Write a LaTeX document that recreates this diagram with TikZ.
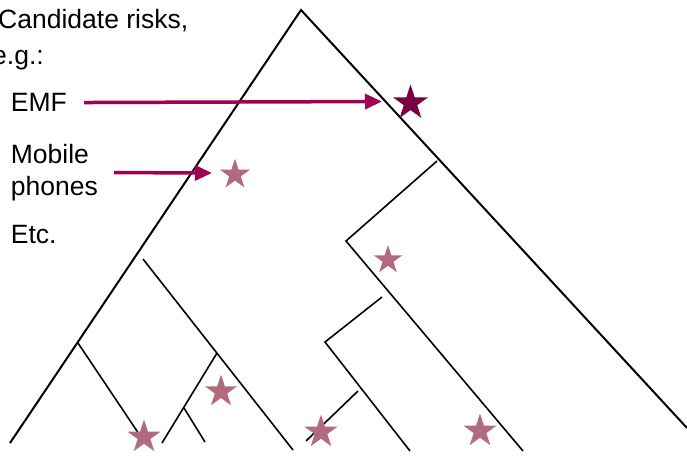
\documentclass[tikz,border=0pt]{standalone}
\usepackage{fontspec}
\setmainfont{Liberation Sans}
\usetikzlibrary{arrows.meta}
\usetikzlibrary{shapes.geometric}

\definecolor{arrowred}{RGB}{160,0,85}
\definecolor{darkstar}{RGB}{120,0,64}
\definecolor{palestar}{RGB}{178,106,126}

\begin{document}
\begin{tikzpicture}[
  x=1pt, y=-1pt,
  risktext/.style = {inner sep=0pt, font=\fontsize{26.5}{32}\selectfont},
  outline/.style  = {draw, line width=2pt},
  branch/.style   = {draw, line width=1.6pt},
  riskarrow/.style= {draw=arrowred, line width=3.5pt, -{Triangle[length=17pt, width=15pt]}},
  riskstar/.style = {star, star points=5, star point ratio=2.618, inner sep=0pt, fill=palestar, minimum size=#1},
  riskstar/.default = 35pt
]
  \useasboundingbox (0,0) rectangle (687,456);

  % labels
  \node[risktext, anchor=base west] (cand)   at (-2,28)      {Candidate risks,};
  \node[risktext, anchor=base west] (eg)     at (-8,64)      {e.g.:};
  \node[risktext, anchor=base west] (emf)    at (10.7,111.7) {EMF};
  \node[risktext, anchor=west, align=left] (mobile) at (10.7,172.5) {Mobile\\phones};
  \node[risktext, anchor=base west] (etc)    at (10.7,243)   {Etc.};

  % outer triangle
  \coordinate (apex)  at (301,10);
  \coordinate (lfoot) at (10,443);
  \coordinate (rfoot) at (687,428);
  \draw[outline] (lfoot) -- (apex) -- (rfoot);

  % left subtree
  \coordinate (la)  at (143,259);  \coordinate (lafoot) at (293,450);
  \coordinate (lb)  at (78,343);   \coordinate (lbfoot) at (143,440);
  \coordinate (lc)  at (217,353);  \coordinate (lcfoot) at (162,443);
  \coordinate (ld)  at (184,408);  \coordinate (ldfoot) at (205,442);
  \draw[branch] (la) -- (lafoot);
  \draw[branch] (lb) -- (lbfoot);
  \draw[branch] (lc) -- (lcfoot);
  \draw[branch] (ld) -- (ldfoot);

  % right subtree
  \coordinate (ra)  at (437,161);  \coordinate (racorner) at (346,241);  \coordinate (rafoot) at (523,451);
  \coordinate (rb)  at (382,297);  \coordinate (rbcorner) at (325,342);  \coordinate (rbfoot) at (410,451);
  \coordinate (rc)  at (358,391);  \coordinate (rcfoot) at (306,441);
  \draw[branch] (ra) -- (racorner) -- (rafoot);
  \draw[branch] (rb) -- (rbcorner) -- (rbfoot);
  \draw[branch] (rc) -- (rcfoot);

  % stars
  \node[riskstar=37pt, fill=darkstar] (emfstar) at (410.5,103) {};
  \node[riskstar=32pt] (mobstar) at (235,174.5) {};
  \node[riskstar=30pt] (star3)   at (388,260)   {};
  \node[riskstar=34pt] (star4)   at (221,391.5) {};
  \node[riskstar]      (star5)   at (144,437)   {};
  \node[riskstar]      (star6)   at (321,432)   {};
  \node[riskstar]      (star7)   at (480,431)   {};

  % arrows
  \coordinate (emftip) at (382,101.5);
  \coordinate (mobtip) at (212,173);
  \draw[riskarrow, shorten <=17pt] (emf.east) -- (emftip);
  \draw[riskarrow, shorten <=16pt] (mobile.east) -- (mobtip);
\end{tikzpicture}
\end{document}
